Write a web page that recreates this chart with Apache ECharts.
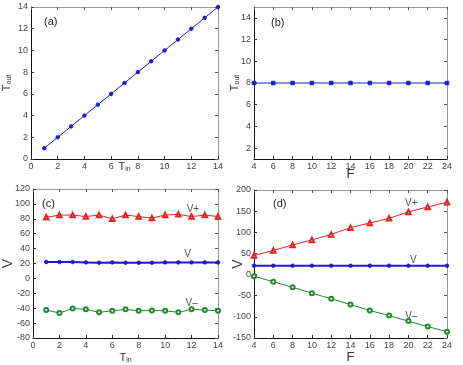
<!DOCTYPE html>
<html>
<head>
<meta charset="utf-8">
<script src="https://cdn.jsdelivr.net/npm/echarts@6/dist/echarts.min.js"></script>
<style>
  html, body { margin: 0; padding: 0; background: #fff; }
  #chart { width: 463px; height: 365px; }
</style>
</head>
<body>
<div id="chart"></div>
<script>
// panel (a)
const tinA = [1, 2, 3, 4, 5, 6, 7, 8, 9, 10, 11, 12, 13, 14];
const toutA = [1, 2, 3, 4, 5, 6, 7, 8, 9, 10, 11, 12, 13, 14];
// panel (b)
const fB = [4, 6, 8, 10, 12, 14, 16, 18, 20, 22, 24];
const toutB = [8, 8, 8, 8, 8, 8, 8, 8, 8, 8, 8];
const ticksB = [2, 4, 6, 8, 10, 12, 14];
// panel (c)
const tinC = [1, 2, 3, 4, 5, 6, 7, 8, 9, 10, 11, 12, 13, 14];
const vPlusC = [82, 85, 85, 83, 85, 80, 85, 83, 81, 85, 86, 83, 85, 83];
const vC = [22, 22, 22, 21.5, 21, 21.5, 21, 21, 21, 21.5, 21.5, 21.5, 21.5, 21.5];
const vMinusC = [-42.5, -46.5, -40.5, -41.5, -45.5, -43.5, -41.5, -43.5, -43, -43.5, -45.5, -41.5, -42.5, -43.5];
// panel (d)
const fD = [4, 6, 8, 10, 12, 14, 16, 18, 20, 22, 24];
const vPlusD = [45, 57, 70, 82, 95, 111, 122, 133, 148, 160, 171];
const vD = [21, 21, 21, 21, 21, 21, 21, 21, 21, 21, 21];
const vMinusD = [-4, -17, -30, -44, -57, -71, -85, -97, -110, -123, -135];
// curve labels [x, y, text]
const labelsC = [[12.1, 93, 'V+'], [11.7, 32, 'V'], [12.0, -34, 'V\u2013']];
const labelsD = [[20.3, 169, 'V+'], [20.5, 35, 'V'], [20.3, -98, 'V\u2013']];

const FONT = 'Liberation Sans';
const BLUE = '#1c1ccf';
const RED = '#e02424';
const GREEN = '#218a2a';

const grids = [
    { left: 25, top: 7, width: 193, height: 152 },
    { left: 254, top: 7, width: 193, height: 152 },
    { left: 25, top: 189, width: 193, height: 150 },
    { left: 254, top: 190, width: 193, height: 149 }
];

const rich = {
    m: { fontFamily: FONT, fontSize: 11, color: '#333' },
    s: { fontFamily: FONT, fontSize: 7, color: '#333', verticalAlign: 'bottom', padding: [6, 0, 0, 0] }
};

const xAxes = [];
const yAxes = [];

function addAxes(gi, x, y) {
    const labelStyle = { fontFamily: FONT, fontSize: 9, color: '#444', margin: 3 };
    xAxes.push({
        gridIndex: gi, type: 'value', min: x.min, max: x.max, interval: x.interval,
        name: x.name, nameLocation: 'middle', nameGap: x.gap, nameMoveOverlap: false,
        nameTextStyle: { fontFamily: FONT, fontSize: x.size, color: '#333', rich: rich },
        axisLine: { show: true, onZero: false, lineStyle: { color: '#111', width: 1 } },
        axisTick: { show: true, inside: true, length: 3, lineStyle: { color: '#333' } },
        axisLabel: labelStyle,
        splitLine: { show: false }
    });
    xAxes.push({
        gridIndex: gi, type: 'value', position: 'top', min: x.min, max: x.max, interval: x.interval,
        axisLine: { show: true, onZero: false, lineStyle: { color: '#999' } },
        axisTick: { show: true, inside: true, length: 3, lineStyle: { color: '#555' } },
        axisLabel: { show: false }, splitLine: { show: false }
    });
    const yLabel = Object.assign({}, labelStyle);
    const yTick = { show: true, inside: true, length: 3, lineStyle: { color: '#333' } };
    if (y.custom) {
        yLabel.customValues = y.custom;
        yTick.customValues = y.custom;
    }
    yAxes.push({
        gridIndex: gi, type: 'value', min: y.min, max: y.max, interval: y.interval,
        name: y.name, nameLocation: 'middle', nameGap: y.gap, nameRotate: 90, nameMoveOverlap: false,
        nameTextStyle: { fontFamily: FONT, fontSize: y.size, color: '#333', rich: rich },
        axisLine: { show: true, onZero: false, lineStyle: { color: '#111', width: 1 } },
        axisTick: yTick,
        axisLabel: yLabel,
        splitLine: { show: false }
    });
    const yTick2 = Object.assign({}, yTick, { lineStyle: { color: '#555' } });
    yAxes.push({
        gridIndex: gi, type: 'value', position: 'right', min: y.min, max: y.max, interval: y.interval,
        axisLine: { show: true, onZero: false, lineStyle: { color: '#999' } },
        axisTick: yTick2,
        axisLabel: { show: false }, splitLine: { show: false }
    });
}

addAxes(0, { min: 0, max: 14, interval: 2, name: '{m|T}{s|in}', gap: 1, size: 11 },
           { min: 0, max: 14, interval: 2, name: '{m|T}{s|out}', gap: 18, size: 11 });
addAxes(1, { min: 4, max: 24, interval: 2, name: 'F', gap: 9, size: 13 },
           { min: 1, max: 15, name: '{m|T}{s|out}', gap: 13, size: 11, custom: ticksB });
addAxes(2, { min: 0, max: 14, interval: 2, name: '{m|T}{s|in}', gap: 13, size: 11 },
           { min: -80, max: 120, interval: 20, name: 'V', gap: 18, size: 14 });
addAxes(3, { min: 4, max: 24, interval: 2, name: 'F', gap: 13, size: 13 },
           { min: -150, max: 200, interval: 50, name: 'V', gap: 9, size: 14 });

function zip(xs, ys) {
    return xs.map((v, i) => [v, ys[i]]);
}

function line(gi, xs, ys, color, symbol, size, width) {
    return {
        type: 'line', xAxisIndex: gi * 2, yAxisIndex: gi * 2,
        data: zip(xs, ys), symbol: symbol, symbolSize: size, showSymbol: true,
        lineStyle: { color: color, width: width || 1 },
        itemStyle: { color: color, borderColor: color, borderWidth: 1 },
        animation: false, silent: true
    };
}

function textSeries(gi, labels) {
    return {
        type: 'scatter', xAxisIndex: gi * 2, yAxisIndex: gi * 2,
        symbolSize: 0, silent: true, animation: false,
        data: labels.map(l => ({ value: [l[0], l[1]], name: l[2] })),
        label: { show: true, position: 'inside', formatter: p => p.name,
                 fontFamily: FONT, fontSize: 10, color: '#222' }
    };
}

const series = [
    line(0, tinA, toutA, BLUE, 'circle', 3.5),
    line(1, fB, toutB, BLUE, 'rect', 3.5),
    line(2, tinC, vPlusC, RED, 'emptyTriangle', 4.5),
    line(2, tinC, vC, BLUE, 'circle', 3.5, 2),
    line(2, tinC, vMinusC, GREEN, 'emptyCircle', 4),
    line(3, fD, vPlusD, RED, 'emptyTriangle', 4.5),
    line(3, fD, vD, BLUE, 'circle', 3.5, 2),
    line(3, fD, vMinusD, GREEN, 'emptyCircle', 4),
    textSeries(2, labelsC),
    textSeries(3, labelsD)
];

const panelTags = [['(a)', 52, 23], ['(b)', 279, 24], ['(c)', 50, 205], ['(d)', 281, 205]];

const chart = echarts.init(document.getElementById('chart'));
chart.setOption({
    animation: false,
    grid: grids,
    xAxis: xAxes,
    yAxis: yAxes,
    series: series,
    graphic: panelTags.map(t => ({
        type: 'text', left: t[1] - 8, top: t[2] - 7,
        style: { text: t[0], fontFamily: FONT, fontSize: 11, fill: '#222' }
    }))
});
</script>
</body>
</html>
